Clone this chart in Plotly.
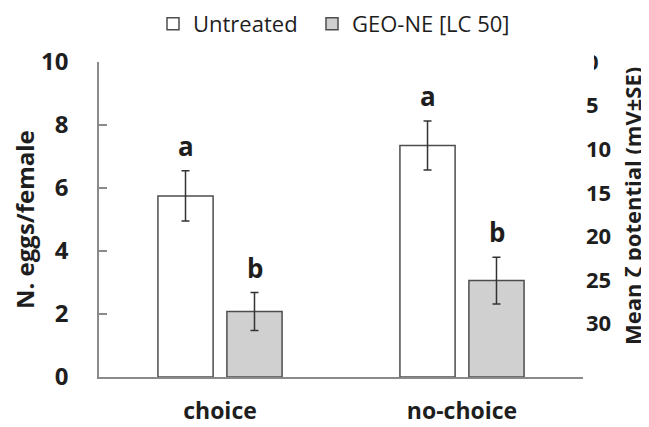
import plotly.graph_objects as go

categories = ["choice", "no-choice"]
series_names = ["Untreated", "GEO-NE [LC 50]"]
untreated = [5.75, 7.35]
untreated_se = [0.8, 0.78]
geo = [2.08, 3.06]
geo_se = [0.6, 0.74]
untreated_letters = ["a", "a"]
geo_letters = ["b", "b"]
left_ticks = [0, 2, 4, 6, 8, 10]
right_ticks = [0, 5, 10, 15, 20, 25, 30]

FONT = "Open Sans"
DARK = "#1e1e1e"
OUTLINE = "#4d4d4d"
OFF = 8  # page body margin offset in the viewer
W, H = 649 - OFF, 427 - OFF
# plot area in screen px: x 99..583, y 62..377
L, R, T, B = 99 - OFF, 649 - 583, 62 - OFF, 427 - 377
PW, PH = W - L - R, H - T - B


def px(xs):
    return (xs - 99) / PW


def py(ys):
    return (377 - ys) / PH


fig = go.Figure()
fig.add_trace(go.Bar(
    name=series_names[0], x=categories, y=untreated, legend="legend",
    marker=dict(color="white", line=dict(color=OUTLINE, width=1.5)),
    error_y=dict(type="data", array=untreated_se, color="#333333", thickness=1.5, width=4),
))
fig.add_trace(go.Bar(
    name=series_names[1], x=categories, y=geo, legend="legend2",
    marker=dict(color="#d0d0d0", line=dict(color=OUTLINE, width=1.5)),
    error_y=dict(type="data", array=geo_se, color="#333333", thickness=1.5, width=4),
))
# invisible trace to activate the right axis
fig.add_trace(go.Scatter(x=categories, y=[None, None], yaxis="y2", showlegend=False,
                         hoverinfo="skip", mode="markers"))

annotations = []
for i, c in enumerate(categories):
    for vals, ses, letters, shift in ((untreated, untreated_se, untreated_letters, -34.5),
                                      (geo, geo_se, geo_letters, 34.5)):
        annotations.append(dict(
            x=c, y=vals[i] + ses[i], xref="x", yref="y", text=letters[i],
            showarrow=False, xshift=shift, yshift=5, yanchor="bottom",
            font=dict(family=FONT, size=26, color=DARK, weight="bold"),
        ))
annotations.append(dict(
    x=px(632), y=py(206), xref="paper", yref="paper",
    text="Mean ζ potential (mV±SE)", textangle=-90, showarrow=False,
    xanchor="center", yanchor="middle",
    font=dict(family=FONT, size=22, color=DARK, weight="bold"),
))
annotations.append(dict(
    x=px(24), y=py(220), xref="paper", yref="paper",
    text="N. eggs/female", textangle=-90, showarrow=False,
    xanchor="center", yanchor="middle",
    font=dict(family=FONT, size=24, color=DARK, weight="bold"),
))

legend_common = dict(orientation="h", xanchor="left", y=py(24), yanchor="middle",
                     font=dict(family=FONT, size=22, color=DARK), itemwidth=30,
                     bgcolor="rgba(0,0,0,0)")

fig.update_layout(
    width=W, height=H,
    margin=dict(l=L, r=R, t=T, b=B, autoexpand=False),
    paper_bgcolor="white", plot_bgcolor="white",
    barmode="group", bargap=0.43, bargroupgap=0.2,
    font=dict(family=FONT, color=DARK),
    showlegend=True,
    legend=dict(x=px(153), **legend_common),
    legend2=dict(x=px(312), **legend_common),
    xaxis=dict(
        showline=True, linecolor="#8a8a8a", linewidth=1.5, ticks="",
        tickfont=dict(family=FONT, size=23, color=DARK, weight="bold"),
        ticklabelstandoff=13, range=[-0.5, 1.5], showgrid=False, zeroline=False,
        automargin=False,
    ),
    yaxis=dict(
        range=[0, 10], tickvals=left_ticks, showline=True, linecolor="#8a8a8a",
        linewidth=1.5, ticks="inside", ticklen=8, tickcolor="#8a8a8a", tickwidth=1.5,
        tickfont=dict(family=FONT, size=24, color=DARK, weight="bold"),
        ticklabelstandoff=24, showgrid=False, zeroline=False, automargin=False,
    ),
    yaxis2=dict(
        overlaying="y", side="right", range=[36.1, 0], tickvals=right_ticks,
        showline=False, ticks="", showgrid=False, zeroline=False,
        tickfont=dict(family=FONT, size=22, color=DARK, weight="bold"),
        ticklabelstandoff=2, automargin=False,
    ),
    annotations=annotations,
    shapes=[dict(type="rect", xref="paper", yref="paper",
                 x0=px(584), x1=px(594), y0=py(76), y1=py(50),
                 fillcolor="white", line=dict(width=0), layer="above")],
)

fig.write_html("out.html")
